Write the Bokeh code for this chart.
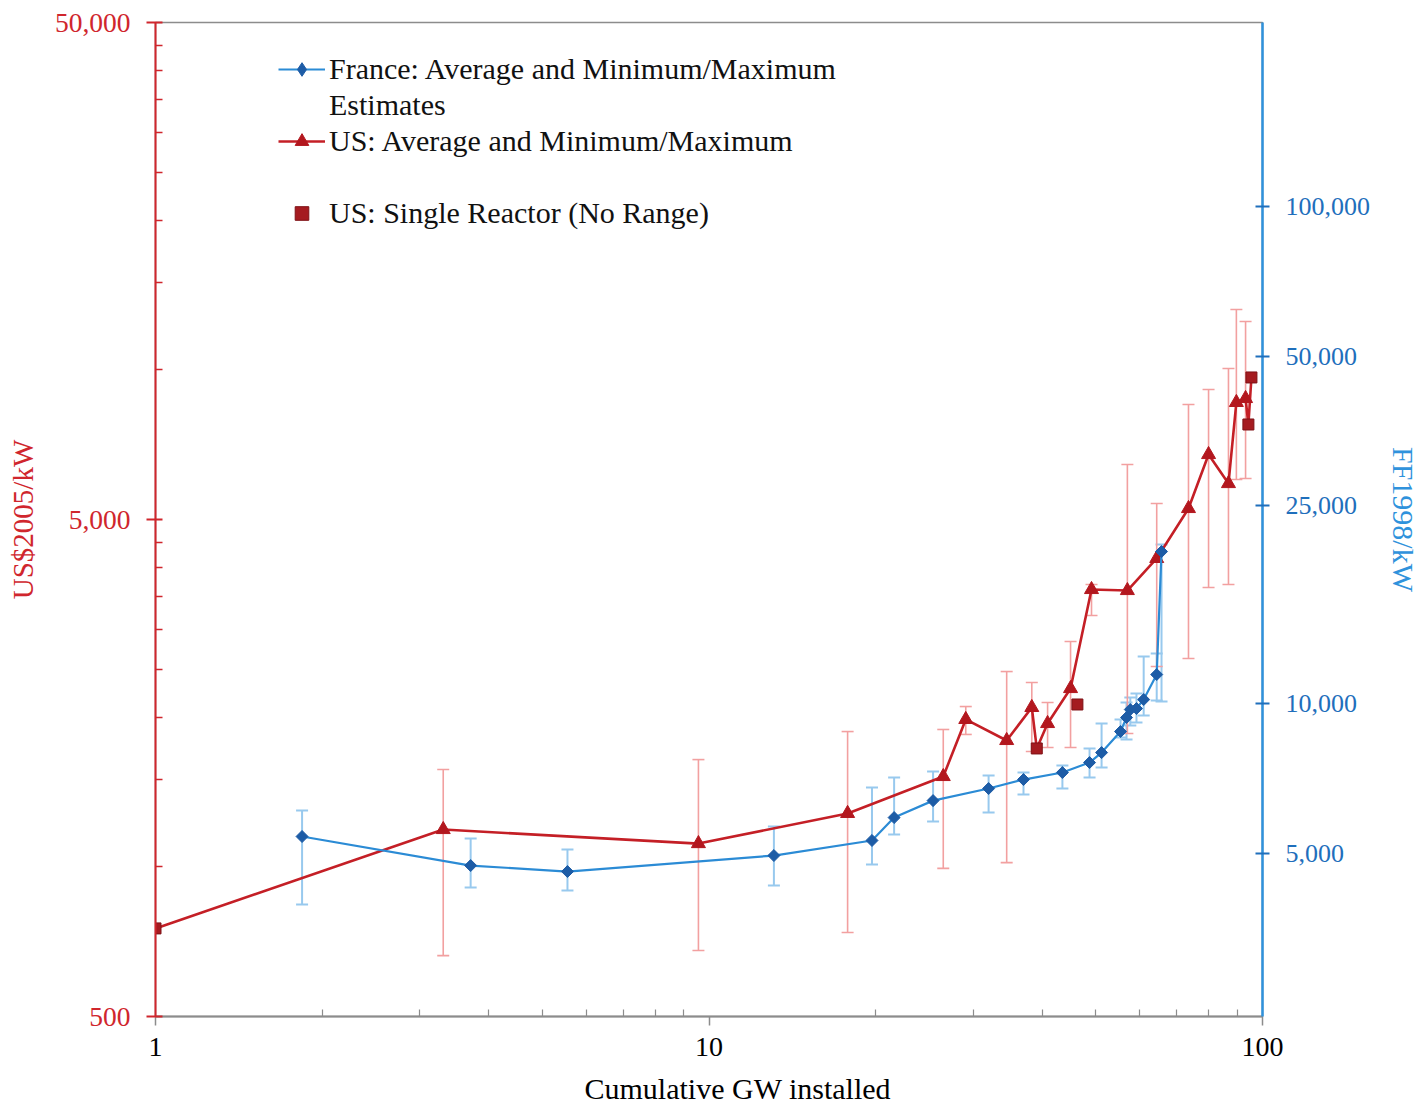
from bokeh.plotting import figure
from bokeh.models import (Range1d, LogAxis, LogScale, FixedTicker, Whisker, TeeHead,
                          ColumnDataSource, Legend, LegendItem, NumeralTickFormatter, Title)
from bokeh.embed import file_html
from bokeh.resources import INLINE

# ---------------- data ----------------
# US (US$2005/kW, left axis)
us_x = [1.00, 3.31, 9.57, 17.8, 26.5, 29.1, 34.5, 38.3, 39.1, 40.9, 45.0, 46.3,
        49.1, 57.0, 64.4, 73.5, 79.9, 86.8, 89.7, 93.2, 94.3, 95.5]
us_avg = [752, 1189, 1114, 1281, 1520, 1980, 1796, 2093, 1731, 1943, 2285, 2122,
          3615, 3598, 4174, 5261, 6756, 5906, 8599, 8758, 7765, 9655]
us_lo = [None, 663, 679, 738, 993, 1847, 1020, 1707, None, 1739, 1739, None,
         3205, 1855, 2530, 2626, 3649, 3700, 6016, 6044, None, None]
us_hi = [None, 1570, 1644, 1872, 1890, 2102, 2472, 2350, None, 2141, 2841, None,
         3700, 6450, 5385, 8517, 9131, 10066, 13229, 12512, None, None]
us_kind = ["single", "range", "range", "range", "range", "range", "range", "range",
           "single", "range", "range", "single", "range", "range", "range", "range",
           "range", "range", "range", "range", "single", "single"]
us_on_line = [True, True, True, True, True, True, True, True, True, True, True, False,
              True, True, True, True, True, True, True, True, True, True]

# France (FF1998/kW, right axis)
fr_x = [1.84, 3.71, 5.55, 13.1, 19.7, 21.6, 25.4, 32.0, 37.0, 43.5, 48.7, 51.2,
        55.4, 56.8, 57.7, 59.2, 61.0, 64.4, 65.7]
fr_avg = [5401, 4721, 4592, 4945, 5302, 5896, 6378, 6745, 7032, 7264, 7608, 7967,
          8784, 9372, 9726, 9771, 10187, 11438, 20222]
fr_lo = [3940, 4263, 4205, 4303, 4743, 5451, 5788, 6034, 6560, 6745, 7098, 7435,
         8543, 8464, 9031, 9158, 9459, 10140, 10093]
fr_hi = [6090, 5351, 5085, 5657, 6776, 7098, 7297, 7164, 7264, 7504, 8116, 9116,
         9286, 10046, 10282, 10474, 12433, 12606, 20889]

left_ticks = [500, 5000, 50000]
left_minor = [1000, 1500, 2000, 2500, 3000, 3500, 4000, 4500,
              10000, 15000, 20000, 25000, 30000, 35000, 40000, 45000]
right_ticks = [5000, 10000, 25000, 50000, 100000]
x_ticks = [1, 10, 100]
x_minor = [2, 3, 4, 5, 6, 7, 8, 9, 20, 30, 40, 50, 60, 70, 80, 90]

# ---------------- colours / fonts ----------------
RED_AX = "#D0262D"
RED_LINE = "#C41F26"
RED_MARK = "#B3171E"
RED_SQ = "#A51B20"
RED_ERR = "#F2A0A0"
BLUE_AX = "#2F92DC"
BLUE_TXT = "#1F6FBC"
BLUE_LINE = "#2B8BD5"
BLUE_MARK = "#1D5CA6"
BLUE_ERR = "#98C9EE"
GRAY = "#8C8C8C"
FONT = "Liberation Serif"
NAN = float("nan")

p = figure(x_axis_type="log", y_axis_type="log",
           x_range=Range1d(1, 100), y_range=Range1d(500, 50000),
           frame_width=1107, frame_height=994,
           min_border_left=155, min_border_right=160, min_border_top=22, min_border_bottom=96,
           output_backend="svg", toolbar_location=None)
p.xgrid.visible = False
p.ygrid.visible = False
p.outline_line_color = GRAY
p.outline_line_width = 1.5
p.background_fill_color = "white"
p.border_fill_color = "white"

# right axis
p.extra_y_ranges = {"fr": Range1d(2346, 234560)}
p.extra_y_scales = {"fr": LogScale()}
rax = LogAxis(y_range_name="fr")
p.add_layout(rax, "right")

# left axis
lax = p.left[0]
lax.ticker = FixedTicker(ticks=left_ticks, minor_ticks=left_minor)
lax.formatter = NumeralTickFormatter(format="0,0")
lax.axis_line_color = RED_AX
lax.axis_line_width = 2
lax.major_tick_line_color = RED_AX
lax.major_tick_line_width = 2
lax.major_tick_in = 7
lax.major_tick_out = 9
lax.minor_tick_line_color = RED_AX
lax.minor_tick_line_width = 1.5
lax.minor_tick_in = 7
lax.minor_tick_out = 0
lax.major_label_text_color = RED_AX
lax.major_label_text_font = FONT
lax.major_label_text_font_size = "27.5px"
lax.major_label_standoff = 16
lax.axis_label = "US$2005/kW"
lax.axis_label_text_color = RED_AX
lax.axis_label_text_font = FONT
lax.axis_label_text_font_size = "29px"
lax.axis_label_text_font_style = "normal"
lax.axis_label_standoff = 13

# right axis styling
rax.ticker = FixedTicker(ticks=right_ticks, minor_ticks=[])
rax.formatter = NumeralTickFormatter(format="0,0")
rax.axis_line_color = BLUE_AX
rax.axis_line_width = 2.5
rax.major_tick_line_color = BLUE_TXT
rax.major_tick_line_width = 2
rax.major_tick_in = 7
rax.major_tick_out = 7
rax.minor_tick_in = 0
rax.minor_tick_out = 0
rax.major_label_text_color = BLUE_TXT
rax.major_label_text_font = FONT
rax.major_label_text_font_size = "26px"
rax.major_label_standoff = 16
rax.axis_label = "FF1998/kW"
rax.axis_label_text_color = BLUE_AX
rax.axis_label_text_font = FONT
rax.axis_label_text_font_size = "30px"
rax.axis_label_text_font_style = "normal"
rax.axis_label_standoff = 14

# bottom axis
bax = p.below[0]
bax.ticker = FixedTicker(ticks=x_ticks, minor_ticks=x_minor)
bax.formatter = NumeralTickFormatter(format="0,0")
bax.axis_line_color = GRAY
bax.axis_line_width = 2
bax.major_tick_line_color = GRAY
bax.major_tick_line_width = 1.5
bax.major_tick_in = 0
bax.major_tick_out = 9
bax.minor_tick_line_color = GRAY
bax.minor_tick_line_width = 1.2
bax.minor_tick_in = 7
bax.minor_tick_out = 0
bax.major_label_text_color = "black"
bax.major_label_text_font = FONT
bax.major_label_text_font_size = "28px"
bax.major_label_standoff = 12

# x-axis title, set right of the frame centre as in the original
p.add_layout(Title(text="Cumulative GW installed", align="left", offset=429,
                   text_font=FONT, text_font_size="30px", text_font_style="normal",
                   text_color="black", standoff=22), "below")

# ---------------- error bars ----------------
rng = [i for i, k in enumerate(us_kind) if k == "range"]
us_err = ColumnDataSource(dict(x=[us_x[i] for i in rng],
                               lo=[us_lo[i] for i in rng],
                               hi=[us_hi[i] for i in rng]))
fr_err = ColumnDataSource(dict(x=fr_x, lo=fr_lo, hi=fr_hi))

w_fr = Whisker(source=fr_err, base="x", lower="lo", upper="hi", dimension="height",
               y_range_name="fr", line_color=BLUE_ERR, line_width=2, level="underlay",
               upper_head=TeeHead(size=12, line_color=BLUE_ERR, line_width=2),
               lower_head=TeeHead(size=12, line_color=BLUE_ERR, line_width=2))
w_us = Whisker(source=us_err, base="x", lower="lo", upper="hi", dimension="height",
               line_color=RED_ERR, line_width=1.6, level="underlay",
               upper_head=TeeHead(size=12, line_color=RED_ERR, line_width=1.6),
               lower_head=TeeHead(size=12, line_color=RED_ERR, line_width=1.6))
p.add_layout(w_fr)
p.add_layout(w_us)

# ---------------- US series ----------------
line_idx = [i for i, f in enumerate(us_on_line) if f]
us_line = p.line([us_x[i] for i in line_idx], [us_avg[i] for i in line_idx],
                 line_color=RED_LINE, line_width=2.6)
us_tri = p.scatter([us_x[i] for i in rng], [us_avg[i] for i in rng], marker="triangle",
                   size=14, fill_color=RED_MARK, line_color=RED_MARK, line_width=1)
sq = [i for i, k in enumerate(us_kind) if k == "single"]
us_sq = p.scatter([us_x[i] for i in sq], [us_avg[i] for i in sq], marker="square",
                  size=11, fill_color=RED_SQ, line_color="#7E1216", line_width=1)

# ---------------- France series ----------------
fr_line = p.line(fr_x, fr_avg, y_range_name="fr", line_color=BLUE_LINE, line_width=2.2)
fr_dia = p.scatter(fr_x, fr_avg, y_range_name="fr", marker="square", angle=0.785398,
                   size=8.5, fill_color=BLUE_MARK, line_color=BLUE_MARK, line_width=1)
# legend-only glyphs (no visible data)
fr_key = p.scatter(x=[NAN], y=[NAN], marker="diamond", size=12, fill_color=BLUE_MARK,
                   line_color=BLUE_MARK, line_width=1)
blank = p.scatter(x=[NAN], y=[NAN], marker="square", size=1, fill_alpha=0, line_alpha=0)

legend = Legend(items=[
    LegendItem(label="France: Average and Minimum/Maximum", renderers=[fr_line, fr_key]),
    LegendItem(label="Estimates", renderers=[blank]),
    LegendItem(label="US: Average and Minimum/Maximum", renderers=[us_line, us_tri]),
    LegendItem(label=" ", renderers=[blank]),
    LegendItem(label="US: Single Reactor (No Range)", renderers=[us_sq]),
])
legend.location = (123, 786)
legend.label_text_font = FONT
legend.label_text_font_size = "30px"
legend.label_text_color = "#111111"
legend.glyph_width = 47
legend.glyph_height = 34
legend.label_height = 34
legend.spacing = 2
legend.padding = 0
legend.margin = 0
legend.label_standoff = 4
legend.border_line_alpha = 0
legend.background_fill_alpha = 0
p.add_layout(legend)

open("out.html", "w").write(file_html(p, INLINE))
